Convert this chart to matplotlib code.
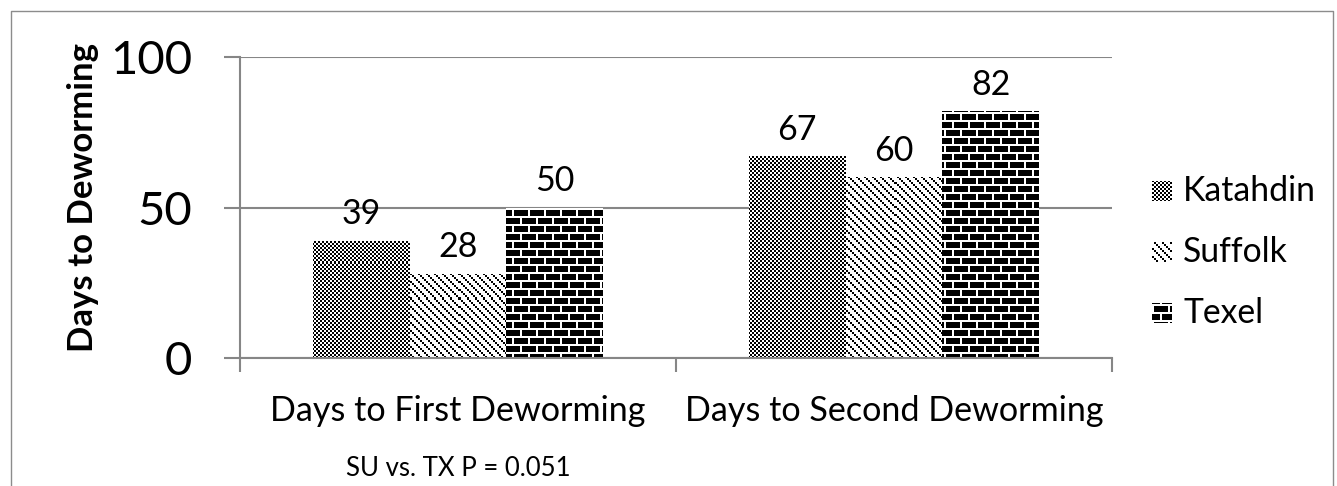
import numpy as np
import matplotlib
matplotlib.use('Agg')
import matplotlib.pyplot as plt
from matplotlib.lines import Line2D
from matplotlib.transforms import blended_transform_factory

# ---- data ----
categories = ['Days to First Deworming', 'Days to Second Deworming']
breeds = ['Katahdin', 'Suffolk', 'Texel']
katahdin = [39, 67]
suffolk = [28, 60]
texel = [50, 82]
y_ticks = [0, 50, 100]
y_label = 'Days to Deworming'
footnote = 'SU vs. TX P = 0.051'

# ---- canvas ----
W, H = 1337, 486
DPI = 100
plt.rcParams['font.family'] = ['Lato', 'DejaVu Sans']
GRAY = '#868686'

fig = plt.figure(figsize=(W / DPI, H / DPI), dpi=DPI)


def fx(px):
    return px / W


def fy(py):
    return 1 - py / H


# plot area, in pixels from the top-left corner
L, R, T, B = 240, 1112, 57, 358
ax = fig.add_axes([fx(L), fy(B), fx(R) - fx(L), fy(T) - fy(B)])


# ---- bitmap fill patterns (ink=True is black) ----
def checker(X, Y):
    return ((X // 2 + Y // 2) % 2) == 0


def diagonal(X, Y):
    return ((X // 2 - Y // 2) % 4) == 0


def brick(X, Y):
    r = Y % 16
    shift = np.where(r >= 8, 8, 0)
    mortar = (r % 8 < 2) | ((X + shift) % 16 < 2)
    return ~mortar


patterns = [checker, diagonal, brick]


def pattern_rgb(func, x0, y0, w, h):
    X, Y = np.meshgrid(np.arange(x0, x0 + w), np.arange(y0, y0 + h))
    img = np.where(func(X, Y), 0.0, 1.0)
    return np.dstack([img, img, img])


axes_fill = {f: pattern_rgb(f, L, T, R - L, B - T) for f in patterns}

# ---- bars ----
series = [katahdin, suffolk, texel]
width = 0.222
x = np.arange(len(categories))
for i, (vals, func) in enumerate(zip(series, patterns)):
    pos = x + (i - 1) * width
    bars = ax.bar(pos, vals, width, color='white', edgecolor='none', zorder=2)
    for bar, v, p in zip(bars, vals, pos):
        im = ax.imshow(axes_fill[func], extent=(-0.5, 1.5, 0, 100),
                       origin='upper', interpolation='nearest',
                       aspect='auto', zorder=2.5)
        im.set_clip_path(bar)
        ax.annotate(str(v), xy=(p, v), xytext=(0, 12),
                    textcoords='offset points', ha='center',
                    va='baseline', fontsize=24.5)

# ---- axes styling ----
ax.set_xlim(-0.5, 1.5)
ax.set_ylim(0, 100)
for s in ['top', 'right']:
    ax.spines[s].set_visible(False)
for s in ['left', 'bottom']:
    ax.spines[s].set_color(GRAY)
    ax.spines[s].set_linewidth(1.5)
    ax.spines[s].set_zorder(3)
ax.set_yticks(y_ticks)
ax.set_yticklabels([str(t) for t in y_ticks], fontsize=34)
ax.tick_params(axis='y', direction='out', length=11.5, width=1.5,
               color=GRAY, pad=23)
ax.set_xticks([-0.5, 0.5, 1.5])
ax.set_xticklabels([])
ax.tick_params(axis='x', direction='out', length=10, width=1.5, color=GRAY)
ax.yaxis.grid(True, color=GRAY, linewidth=1.5)
ax.set_axisbelow(True)

# category labels and footnote under the first group
trans = blended_transform_factory(ax.transData, fig.transFigure)
for i, c in enumerate(categories):
    ax.text(i, fy(421), c, transform=trans, ha='center', va='baseline',
            fontsize=24.6)
ax.text(0, fy(476), footnote, transform=trans, ha='center', va='baseline',
        fontsize=18.5)

fig.text(fx(83), fy(197), y_label, rotation=90, ha='center', va='center',
         fontsize=25, fontweight='bold')

# ---- legend ----
for i, (name, func) in enumerate(zip(breeds, patterns)):
    top = 181 + 61 * i
    sw = pattern_rgb(func, 1152, top, 20, 20)
    fig.figimage(sw, xo=1152, yo=H - top - 20, origin='upper')
    fig.text(fx(1183), fy(201 + 61 * i), name, va='baseline', fontsize=24.3)

# ---- outer frame ----
fig.add_artist(Line2D([fx(11), fx(11), fx(1333), fx(1333)],
                      [0, fy(11), fy(11), 0], transform=fig.transFigure,
                      color='#8c8c8c', lw=1.0))

fig.savefig('out.png', dpi=DPI)
